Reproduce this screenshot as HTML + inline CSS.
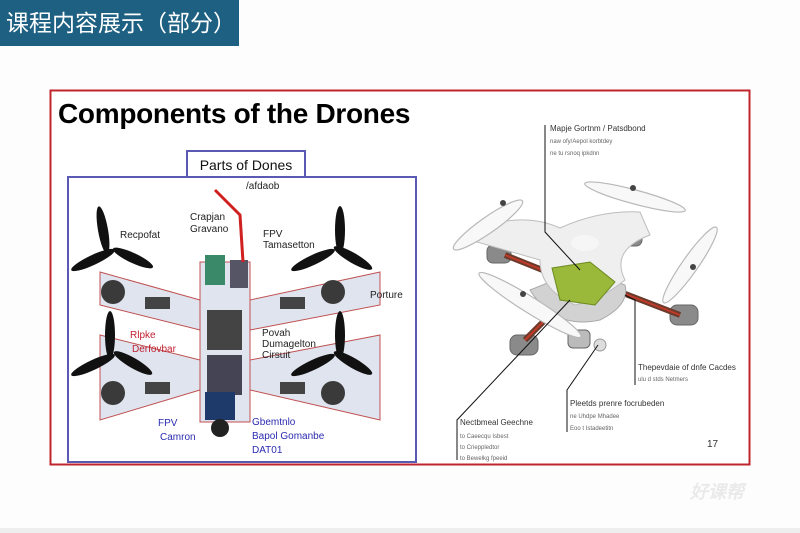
<!DOCTYPE html>
<html><head><meta charset="utf-8"><style>
html,body{margin:0;padding:0;background:#fff;}
body{width:800px;height:533px;overflow:hidden;position:relative;font-family:"Liberation Sans",sans-serif;}
</style></head><body>
<svg width="800" height="533" viewBox="0 0 800 533" xmlns="http://www.w3.org/2000/svg" style="position:absolute;left:0;top:0">
<rect x="0" y="0" width="800" height="533" fill="#fdfdfd"/>
<rect x="0" y="0" width="239" height="46" fill="#1d6082"/>
<text x="6" y="31" font-family="Liberation Sans,Noto Sans CJK SC,sans-serif" font-size="23" fill="#fff">课程内容展示（部分）</text>
<rect x="50.5" y="90.5" width="699" height="374" fill="#fff" stroke="#c0242c" stroke-width="2"/>
<text x="58" y="123" font-size="28" font-weight="bold" fill="#000" letter-spacing="-0.3">Components of the Drones</text>
<!-- left diagram -->
<rect x="68" y="177" width="348" height="285" fill="#fff" stroke="#5a5ab4" stroke-width="2"/>
<rect x="187" y="151" width="118" height="26" fill="#fff" stroke="#5a5ab4" stroke-width="2"/>
<text x="246" y="170" font-size="14" text-anchor="middle" fill="#111">Parts of Dones</text>
<g fill="#dfe4ef" stroke="#c05050" stroke-width="1">
<polygon points="100,272 200,300 200,330 100,305"/>
<polygon points="100,335 200,360 200,390 100,420"/>
<polygon points="380,272 250,300 250,330 380,305"/>
<polygon points="380,335 250,360 250,390 380,420"/>
<rect x="200" y="262" width="50" height="160"/>
</g>
<g fill="#111">
<g transform="translate(115,250)"><ellipse cx="-12" cy="-20" rx="5" ry="24" transform="rotate(-10 -12 -20)"/><ellipse cx="-22" cy="10" rx="24" ry="5" transform="rotate(-25 -22 10)"/><ellipse cx="18" cy="8" rx="22" ry="5" transform="rotate(25 18 8)"/></g>
<g transform="translate(335,250)"><ellipse cx="5" cy="-20" rx="5" ry="24"/><ellipse cx="-22" cy="10" rx="24" ry="5" transform="rotate(-25 -22 10)"/><ellipse cx="18" cy="8" rx="22" ry="5" transform="rotate(30 18 8)"/></g>
<g transform="translate(115,355)"><ellipse cx="-5" cy="-20" rx="5" ry="24"/><ellipse cx="-22" cy="10" rx="24" ry="5" transform="rotate(-25 -22 10)"/><ellipse cx="18" cy="8" rx="22" ry="5" transform="rotate(30 18 8)"/></g>
<g transform="translate(335,355)"><ellipse cx="5" cy="-20" rx="5" ry="24"/><ellipse cx="-22" cy="10" rx="24" ry="5" transform="rotate(-25 -22 10)"/><ellipse cx="18" cy="8" rx="22" ry="5" transform="rotate(30 18 8)"/></g>
</g>
<g fill="#3a3a3a"><circle cx="113" cy="292" r="12"/><circle cx="333" cy="292" r="12"/><circle cx="113" cy="393" r="12"/><circle cx="333" cy="393" r="12"/></g>
<g fill="#444"><rect x="145" y="297" width="25" height="12"/><rect x="280" y="297" width="25" height="12"/><rect x="145" y="382" width="25" height="12"/><rect x="280" y="382" width="25" height="12"/></g>
<rect x="205" y="255" width="20" height="30" fill="#3a8a6a"/><rect x="230" y="260" width="18" height="28" fill="#556"/>
<rect x="207" y="310" width="35" height="40" fill="#444"/><rect x="207" y="355" width="35" height="40" fill="#445"/>
<rect x="205" y="392" width="30" height="28" fill="#1e3a6a"/><circle cx="220" cy="428" r="9" fill="#222"/>
<path d="M215 190 L240 215 L243 262" stroke="#d02020" stroke-width="3" fill="none"/>
<g font-size="10" fill="#222">
<text x="120" y="238">Recpofat</text><text x="190" y="220">Crapjan</text><text x="190" y="232">Gravano</text>
<text x="246" y="189">/afdaob</text><text x="263" y="237">FPV</text><text x="263" y="248">Tamasetton</text>
<text x="370" y="298">Porture</text><text x="262" y="336">Povah</text><text x="262" y="347">Dumagelton</text><text x="262" y="358">Cirsuit</text>
</g>
<g font-size="10" fill="#c02030"><text x="130" y="338">Rlpke</text><text x="132" y="352">Derfovbar</text></g>
<g font-size="10" fill="#2a2ab0"><text x="158" y="426">FPV</text><text x="160" y="440">Camron</text><text x="252" y="425">Gbemtnlo</text><text x="252" y="439">Bapol Gomanbe</text><text x="252" y="453">DAT01</text></g>
<!-- right drone -->
<g fill="#8a8a8a" stroke="#666">
<rect x="487" y="245" width="24" height="18" rx="6"/><rect x="620" y="228" width="22" height="18" rx="6"/>
<rect x="510" y="335" width="28" height="20" rx="7"/><rect x="670" y="305" width="28" height="20" rx="7"/>
<rect x="568" y="330" width="22" height="18" rx="5" fill="#bbb"/>
</g>
<g stroke="#6a3a2a" stroke-width="6"><line x1="505" y1="255" x2="555" y2="275"/><line x1="615" y1="290" x2="680" y2="315"/><line x1="525" y1="340" x2="555" y2="310"/></g>
<g stroke="#c03a2a" stroke-width="2"><line x1="505" y1="255" x2="555" y2="275"/><line x1="615" y1="290" x2="680" y2="315"/><line x1="525" y1="340" x2="555" y2="310"/></g>
<path d="M530 290 Q555 330 600 320 Q630 305 625 285 L580 270 Z" fill="#d2d2d2" stroke="#aaa"/>
<g fill="#efefef" stroke="#bdbdbd">
<path d="M468 232 Q520 210 560 228 Q600 210 640 212 L650 235 Q610 250 625 280 Q600 300 575 305 Q540 290 540 260 Q505 250 470 240 Z"/>
</g>
<path d="M552 268 L590 262 L615 282 L595 305 L560 300 Z" fill="#9ab83a" stroke="#6c8a20"/>
<g fill="#f8f8f8" stroke="#b8b8b8" stroke-width="1.2">
<ellipse cx="488" cy="225" rx="42" ry="8" transform="rotate(-35 488 225)"/>
<ellipse cx="635" cy="197" rx="52" ry="7" transform="rotate(15 635 197)"/>
<ellipse cx="690" cy="265" rx="46" ry="8" transform="rotate(-55 690 265)"/>
<ellipse cx="530" cy="305" rx="60" ry="8" transform="rotate(32 530 305)"/>
</g>
<g fill="#444"><circle cx="503" cy="203" r="3"/><circle cx="633" cy="188" r="3"/><circle cx="693" cy="267" r="3"/><circle cx="523" cy="294" r="3"/></g>
<ellipse cx="585" cy="243" rx="14" ry="8" fill="#f6f6f6"/>
<circle cx="600" cy="345" r="6" fill="#ddd" stroke="#999"/>
<g stroke="#111" fill="none" stroke-width="1"><path d="M545 125 L545 232 L580 270"/><path d="M457 460 L457 420 L570 300"/><path d="M567 432 L567 390 L598 345"/><path d="M635 385 L635 300 L625 295"/></g>
<g font-size="8" fill="#333"><text x="550" y="131">Mapje Gortnm / Patsdbond</text><text x="550" y="143" font-size="6" fill="#666">naw ofy/Aepol korbtdey</text><text x="550" y="155" font-size="6" fill="#666">ne tu rsnoq ipkdnn</text>
<text x="638" y="370">Thepevdaie of dnfe Cacdes</text><text x="638" y="381" font-size="6" fill="#666">ulu d stds Netmers</text>
<text x="570" y="406">Pleetds prenre focrubeden</text><text x="570" y="418" font-size="6" fill="#666">ne Uhdpe Mhadee</text><text x="570" y="430" font-size="6" fill="#666">Eoo t Istadeetitn</text>
<text x="460" y="425">Nectbmeal Geechne</text><text x="460" y="438" font-size="6" fill="#666">to Caeecqu Isbest</text><text x="460" y="449" font-size="6" fill="#666">to Crieppledtor</text><text x="460" y="460" font-size="6" fill="#666">to Bewelkg fpeeid</text>
<text x="707" y="447" font-size="10">17</text></g>
<text x="690" y="498" font-size="18" font-weight="bold" fill="#eaeaea" font-style="italic">好课帮</text>
<rect x="0" y="528" width="800" height="5" fill="#eeeeee"/>
</svg>
</body></html>
